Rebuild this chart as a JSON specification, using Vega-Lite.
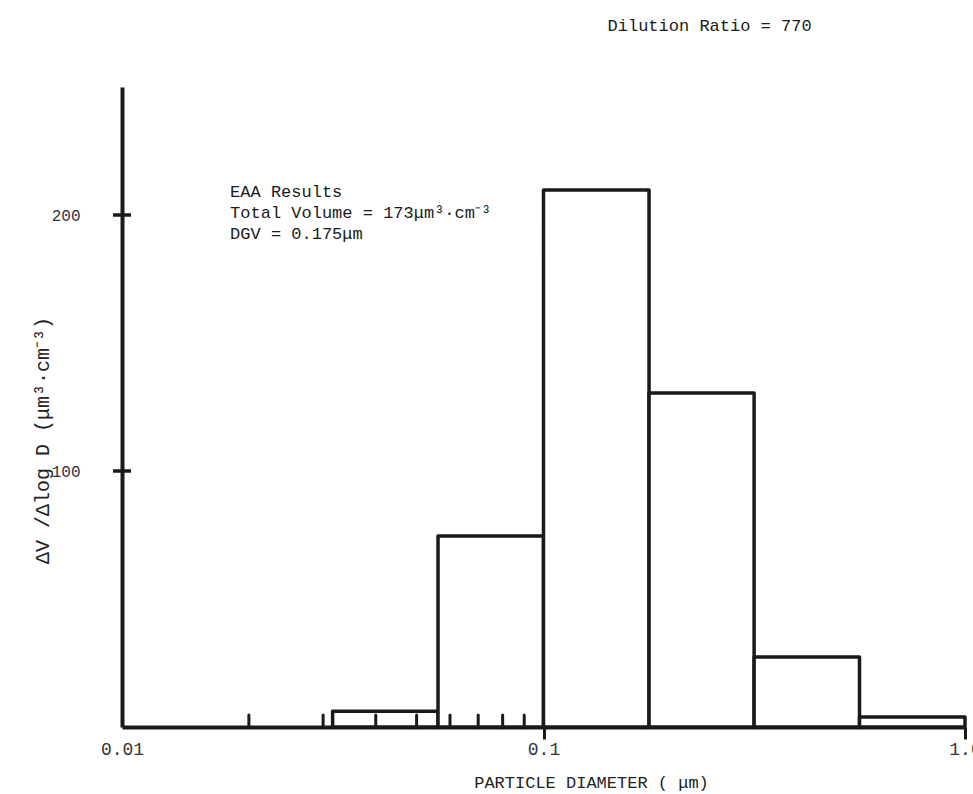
{
  "$schema": "https://vega.github.io/schema/vega-lite/v6.json",
  "autosize": {"type": "none"},
  "padding": {"left": 122, "top": 87, "right": 8, "bottom": 67},
  "width": 843,
  "height": 640,
  "background": "white",
  "config": {
    "view": {"stroke": null},
    "font": "Liberation Mono"
  },
  "datasets": {
    "bins": [
      {"d_low": 0.0316, "d_high": 0.0562, "dv_dlogd": 6.2},
      {"d_low": 0.0562, "d_high": 0.1, "dv_dlogd": 74.6},
      {"d_low": 0.1, "d_high": 0.178, "dv_dlogd": 209.8},
      {"d_low": 0.178, "d_high": 0.316, "dv_dlogd": 130.5},
      {"d_low": 0.316, "d_high": 0.562, "dv_dlogd": 27.3},
      {"d_low": 0.562, "d_high": 1.0, "dv_dlogd": 3.9}
    ],
    "minor": [
      {"d": 0.02}, {"d": 0.03}, {"d": 0.04}, {"d": 0.05},
      {"d": 0.06}, {"d": 0.07}, {"d": 0.08}, {"d": 0.09}
    ],
    "yticks": [{"v": 100}, {"v": 200}],
    "notes": [{"label": "EAA"}]
  },
  "layer": [
    {
      "data": {"name": "bins"},
      "mark": {"type": "rect", "fill": "white", "stroke": "#1a1a1a", "strokeWidth": 3.5, "strokeJoin": "round"},
      "encoding": {
        "x": {
          "field": "d_low", "type": "quantitative",
          "scale": {"type": "log", "domain": [0.01, 1], "nice": false},
          "axis": {
            "values": [0.01, 0.1, 1],
            "format": "~g",
            "labelExpr": "datum.value == 1 ? '1.0' : datum.label",
            "grid": false,
            "domainColor": "#1a1a1a", "domainWidth": 4,
            "tickColor": {"condition": {"test": "datum.value == 0.01", "value": "transparent"}, "value": "#1a1a1a"},
            "tickWidth": 3, "tickSize": 12,
            "labelFont": "Liberation Mono", "labelFontSize": 18, "labelColor": "#333",
            "labelPadding": 1, "labelFlush": false, "labelOverlap": false,
            "title": "PARTICLE DIAMETER  ( μm)",
            "titleFont": "Liberation Mono", "titleFontSize": 17, "titleFontWeight": "normal", "titleColor": "#222",
            "titleX": 469, "titleY": 55, "titleBaseline": "middle", "titleAlign": "center"
          }
        },
        "x2": {"field": "d_high"},
        "y": {
          "field": "dv_dlogd", "type": "quantitative",
          "scale": {"domain": [0, 250], "nice": false, "zero": true},
          "axis": {
            "values": [100, 200],
            "grid": false,
            "ticks": false, "tickSize": 0,
            "domainColor": "#1a1a1a", "domainWidth": 4,
            "labelFont": "Liberation Mono", "labelFontSize": 16, "labelColor": "#333",
            "labelPadding": 42,
            "title": "ΔV /Δlog D   (μm³·cm⁻³)",
            "titleFont": "Liberation Mono", "titleFontSize": 20, "titleFontWeight": "normal", "titleColor": "#222",
            "titleX": -80, "titleY": 353, "titleBaseline": "middle", "titleAlign": "center", "titleAngle": -90
          }
        },
        "y2": {"datum": 0}
      }
    },
    {
      "data": {"name": "minor"},
      "mark": {"type": "rule", "stroke": "#1a1a1a", "strokeWidth": 3, "strokeCap": "round"},
      "encoding": {
        "x": {"field": "d", "type": "quantitative"},
        "y": {"datum": 0},
        "y2": {"datum": 4.7}
      }
    },
    {
      "data": {"name": "yticks"},
      "mark": {"type": "tick", "orient": "horizontal", "color": "#1a1a1a", "size": 18, "thickness": 3.5, "opacity": 1},
      "encoding": {
        "x": {"datum": 0.01, "type": "quantitative"},
        "y": {"field": "v", "type": "quantitative"}
      }
    },
    {
      "data": {"name": "notes"},
      "mark": {
        "type": "text",
        "text": ["EAA Results", "Total Volume = 173μm³·cm⁻³", "DGV = 0.175μm"],
        "align": "left", "baseline": "top", "font": "Liberation Mono", "fontSize": 17,
        "lineHeight": 21, "color": "#1a1a1a"
      },
      "encoding": {
        "x": {"datum": 0.01805, "type": "quantitative"},
        "y": {"datum": 212, "type": "quantitative"}
      }
    },
    {
      "data": {"name": "notes"},
      "mark": {
        "type": "text",
        "text": "Dilution Ratio = 770",
        "align": "left", "baseline": "top", "font": "Liberation Mono", "fontSize": 17,
        "color": "#1a1a1a"
      },
      "encoding": {
        "x": {"datum": 0.1419, "type": "quantitative"},
        "y": {"datum": 277, "type": "quantitative"}
      }
    }
  ]
}
